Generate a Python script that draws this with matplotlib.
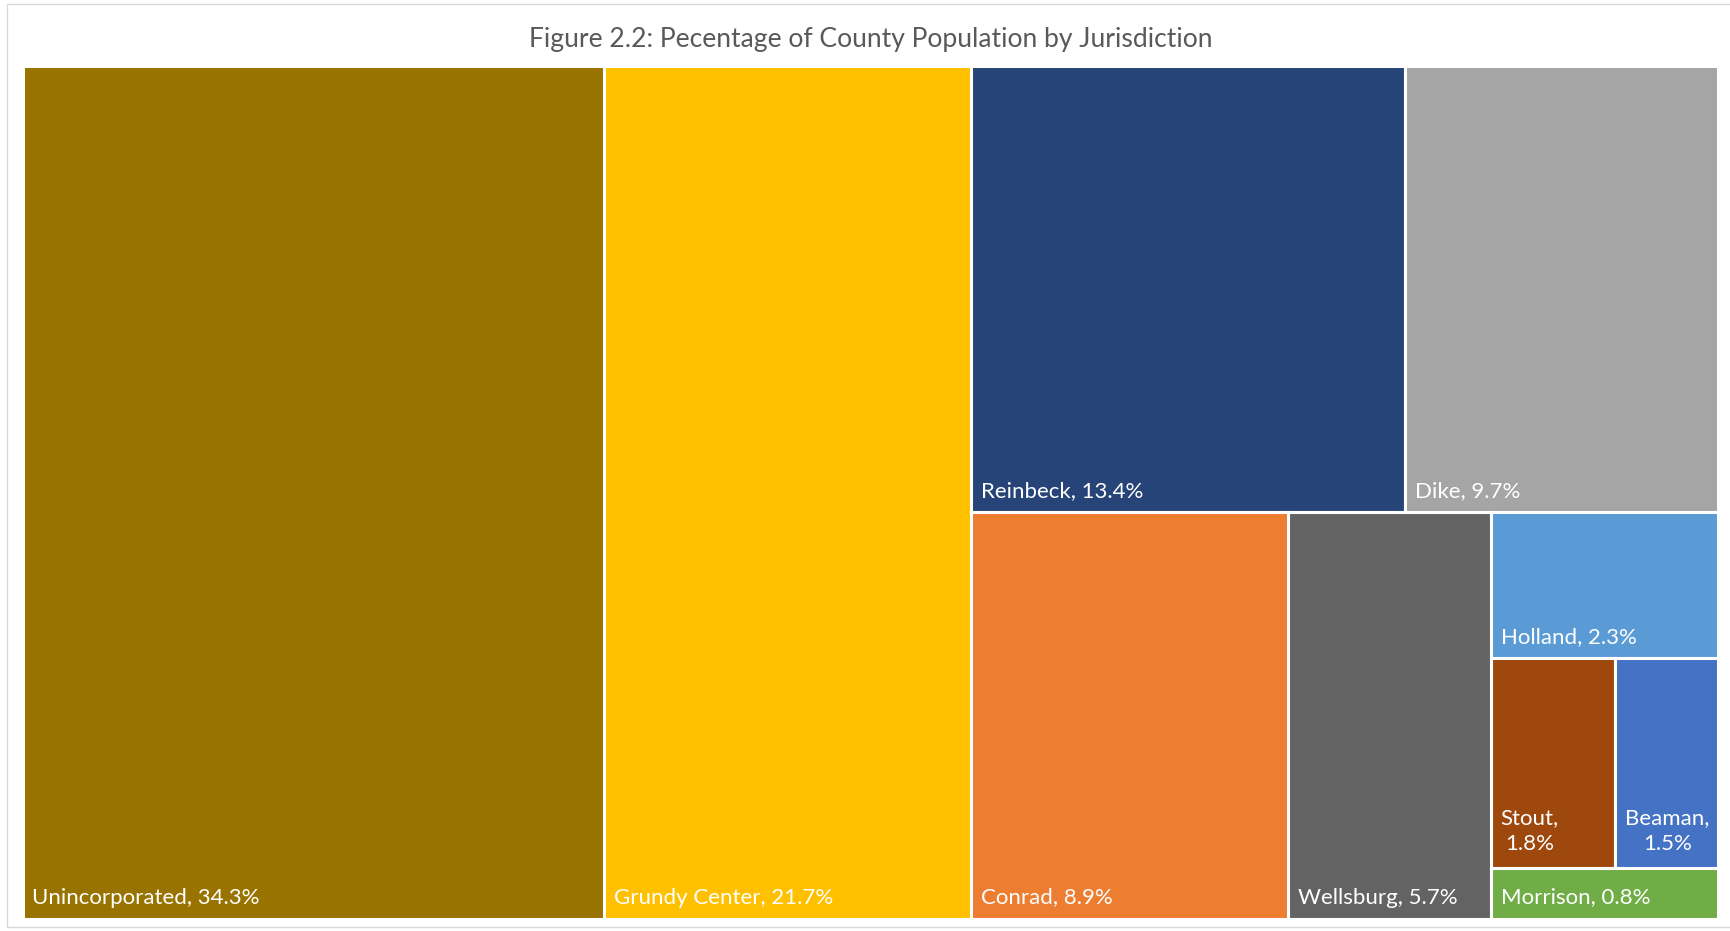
import matplotlib
matplotlib.use("Agg")
import matplotlib.pyplot as plt
from matplotlib.patches import Rectangle

# ---- data ----
jurisdictions = ["Unincorporated", "Grundy Center", "Reinbeck", "Dike", "Conrad",
                 "Wellsburg", "Holland", "Stout", "Beaman", "Morrison"]
percent = [34.3, 21.7, 13.4, 9.7, 8.9, 5.7, 2.3, 1.8, 1.5, 0.8]
colors = ["#997300", "#FFC000", "#264478", "#A5A5A5", "#ED7D31",
          "#636363", "#5B9BD5", "#9E480E", "#4472C4", "#70AD47"]
two_line = {"Stout", "Beaman"}
title = "Figure 2.2: Pecentage of County Population by Jurisdiction"

# nesting of the treemap (h = side by side, v = stacked top to bottom)
layout = ("h", [0, 1, ("v", [("h", [2, 3]),
                             ("h", [4, 5, ("v", [6, ("h", [7, 8]), 9])])])])


def total(node):
    if isinstance(node, int):
        return percent[node]
    return sum(total(c) for c in node[1])


rects = {}


def place(node, x, y, w, h):
    if isinstance(node, int):
        rects[node] = (x, y, w, h)
        return
    d, children = node
    t = total(node)
    if d == "h":
        cx = x
        for c in children:
            cw = w * total(c) / t
            place(c, cx, y, cw, h)
            cx += cw
    else:
        cy = y + h  # top
        for c in children:
            ch = h * total(c) / t
            place(c, x, cy - ch, w, ch)
            cy -= ch


T = total(layout)
place(layout, 0, 0, T, 1.0)

W, H = 1730, 931
fig = plt.figure(figsize=(W / 100, H / 100), dpi=100)
fig.patch.set_facecolor("white")

# outer light border
fig.add_artist(Rectangle((7 / W, 1 - 927 / H), 1.0, (927 - 4) / H,
                         transform=fig.transFigure, fill=False,
                         edgecolor="#D9D9D9", linewidth=1.0))

x0, x1, y0, y1 = 22.5, 1718.5, 65.5, 918.5
ax = fig.add_axes([x0 / W, 1 - y1 / H, (x1 - x0) / W, (y1 - y0) / H])
ax.set_xlim(0, T)
ax.set_ylim(0, 1)
ax.axis("off")

px_per_x = (x1 - x0) / T
px_per_y = (y1 - y0)

font = "Lato"
fs = 16.0
for i, (x, y, w, h) in rects.items():
    ax.add_patch(Rectangle((x, y), w, h, facecolor=colors[i], edgecolor="white",
                           linewidth=2.2))
    name = jurisdictions[i]
    if name in two_line:
        txt = f"{name},\n{percent[i]}%"
        ax.text(x + 10 / px_per_x, y + 37 / px_per_y, txt, color="white",
                fontsize=fs, family=font, ha="left", va="center",
                multialignment="center", linespacing=1.35)
    else:
        txt = f"{name}, {percent[i]}%"
        ax.text(x + 10 / px_per_x, y + 21 / px_per_y, txt, color="white",
                fontsize=fs, family=font, ha="left", va="center")

fig.text(871 / W, 1 - 39 / H, title, ha="center", va="center",
         fontsize=19.1, family=font, color="#595959")

fig.savefig("out.png", dpi=100, facecolor="white")
